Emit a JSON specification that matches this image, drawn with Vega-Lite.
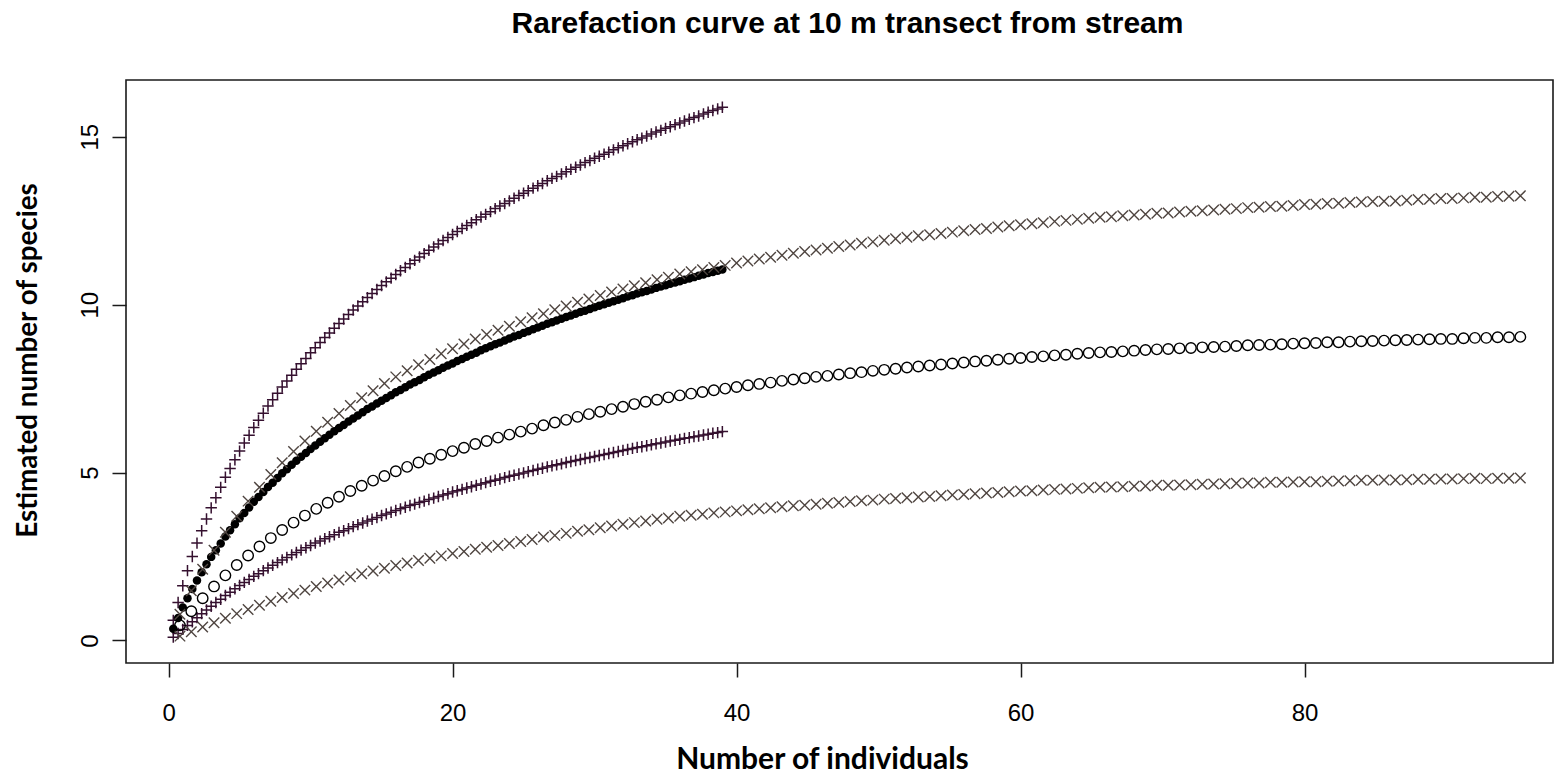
{
"$schema":"https://vega.github.io/schema/vega-lite/v6.json",
"width":1427,"height":583,
"autosize":{"type":"none"},
"padding":{"left":126,"top":80,"right":2,"bottom":110},
"background":"#ffffff",
"title":{"text":"Rarefaction curve at 10 m transect from stream","font":"Liberation Sans","fontSize":30,"fontWeight":"bold","color":"#000000","anchor":"middle","frame":"group","baseline":"alphabetic","offset":17,"dx":8},
"config":{"view":{"stroke":"#1a1a1a","strokeWidth":1.6},"axis":{"domain":false,"grid":false,"ticks":true,"tickSize":14,"tickWidth":1.5,"tickColor":"#1a1a1a","labelFont":"Liberation Sans","labelFontSize":24,"labelColor":"#000000","titleFont":"Lato","titleFontWeight":"bold","titleFontSize":27,"titleColor":"#000000"}},
"datasets":{
"am":[{"x":0.33,"y":0.35},{"x":0.67,"y":0.67},{"x":1,"y":0.98},{"x":1.33,"y":1.26},{"x":1.67,"y":1.53},{"x":2,"y":1.79},{"x":2.33,"y":2.03},{"x":2.67,"y":2.27},{"x":3,"y":2.49},{"x":3.33,"y":2.69},{"x":3.67,"y":2.89},{"x":4,"y":3.1},{"x":4.33,"y":3.28},{"x":4.67,"y":3.46},{"x":5,"y":3.64},{"x":5.33,"y":3.8},{"x":5.67,"y":3.96},{"x":6,"y":4.13},{"x":6.33,"y":4.27},{"x":6.67,"y":4.42},{"x":7,"y":4.57},{"x":7.33,"y":4.7},{"x":7.67,"y":4.84},{"x":8,"y":4.98},{"x":8.33,"y":5.1},{"x":8.67,"y":5.23},{"x":9,"y":5.35},{"x":9.33,"y":5.47},{"x":9.67,"y":5.58},{"x":10,"y":5.7},{"x":10.33,"y":5.81},{"x":10.67,"y":5.92},{"x":11,"y":6.02},{"x":11.33,"y":6.13},{"x":11.67,"y":6.23},{"x":12,"y":6.33},{"x":12.33,"y":6.42},{"x":12.67,"y":6.52},{"x":13,"y":6.61},{"x":13.33,"y":6.7},{"x":13.67,"y":6.8},{"x":14,"y":6.89},{"x":14.33,"y":6.97},{"x":14.67,"y":7.06},{"x":15,"y":7.14},{"x":15.33,"y":7.22},{"x":15.67,"y":7.3},{"x":16,"y":7.39},{"x":16.33,"y":7.46},{"x":16.67,"y":7.54},{"x":17,"y":7.62},{"x":17.33,"y":7.69},{"x":17.67,"y":7.76},{"x":18,"y":7.84},{"x":18.33,"y":7.91},{"x":18.67,"y":7.98},{"x":19,"y":8.05},{"x":19.33,"y":8.12},{"x":19.67,"y":8.19},{"x":20,"y":8.25},{"x":20.33,"y":8.32},{"x":20.67,"y":8.38},{"x":21,"y":8.45},{"x":21.33,"y":8.51},{"x":21.67,"y":8.57},{"x":22,"y":8.64},{"x":22.33,"y":8.7},{"x":22.67,"y":8.76},{"x":23,"y":8.82},{"x":23.33,"y":8.87},{"x":23.67,"y":8.93},{"x":24,"y":8.99},{"x":24.33,"y":9.05},{"x":24.67,"y":9.1},{"x":25,"y":9.16},{"x":25.33,"y":9.21},{"x":25.67,"y":9.27},{"x":26,"y":9.32},{"x":26.33,"y":9.37},{"x":26.67,"y":9.43},{"x":27,"y":9.48},{"x":27.33,"y":9.53},{"x":27.67,"y":9.58},{"x":28,"y":9.63},{"x":28.33,"y":9.68},{"x":28.67,"y":9.73},{"x":29,"y":9.78},{"x":29.33,"y":9.82},{"x":29.67,"y":9.87},{"x":30,"y":9.92},{"x":30.33,"y":9.97},{"x":30.67,"y":10.01},{"x":31,"y":10.06},{"x":31.33,"y":10.1},{"x":31.67,"y":10.15},{"x":32,"y":10.19},{"x":32.33,"y":10.24},{"x":32.67,"y":10.28},{"x":33,"y":10.33},{"x":33.33,"y":10.37},{"x":33.67,"y":10.41},{"x":34,"y":10.45},{"x":34.33,"y":10.5},{"x":34.67,"y":10.54},{"x":35,"y":10.58},{"x":35.33,"y":10.62},{"x":35.67,"y":10.66},{"x":36,"y":10.7},{"x":36.33,"y":10.74},{"x":36.67,"y":10.78},{"x":37,"y":10.82},{"x":37.33,"y":10.86},{"x":37.67,"y":10.9},{"x":38,"y":10.94},{"x":38.33,"y":10.97},{"x":38.67,"y":11.01},{"x":39,"y":11.05}],
"al":[{"x":0.33,"y":0.1},{"x":0.67,"y":0.21},{"x":1,"y":0.33},{"x":1.33,"y":0.45},{"x":1.67,"y":0.56},{"x":2,"y":0.68},{"x":2.33,"y":0.8},{"x":2.67,"y":0.91},{"x":3,"y":1.02},{"x":3.33,"y":1.13},{"x":3.67,"y":1.23},{"x":4,"y":1.34},{"x":4.33,"y":1.44},{"x":4.67,"y":1.54},{"x":5,"y":1.64},{"x":5.33,"y":1.73},{"x":5.67,"y":1.82},{"x":6,"y":1.91},{"x":6.33,"y":1.99},{"x":6.67,"y":2.08},{"x":7,"y":2.16},{"x":7.33,"y":2.24},{"x":7.67,"y":2.32},{"x":8,"y":2.4},{"x":8.33,"y":2.47},{"x":8.67,"y":2.55},{"x":9,"y":2.62},{"x":9.33,"y":2.69},{"x":9.67,"y":2.76},{"x":10,"y":2.83},{"x":10.33,"y":2.9},{"x":10.67,"y":2.96},{"x":11,"y":3.03},{"x":11.33,"y":3.09},{"x":11.67,"y":3.15},{"x":12,"y":3.22},{"x":12.33,"y":3.27},{"x":12.67,"y":3.33},{"x":13,"y":3.39},{"x":13.33,"y":3.45},{"x":13.67,"y":3.5},{"x":14,"y":3.56},{"x":14.33,"y":3.61},{"x":14.67,"y":3.66},{"x":15,"y":3.72},{"x":15.33,"y":3.77},{"x":15.67,"y":3.82},{"x":16,"y":3.87},{"x":16.33,"y":3.92},{"x":16.67,"y":3.97},{"x":17,"y":4.02},{"x":17.33,"y":4.06},{"x":17.67,"y":4.11},{"x":18,"y":4.15},{"x":18.33,"y":4.2},{"x":18.67,"y":4.24},{"x":19,"y":4.29},{"x":19.33,"y":4.33},{"x":19.67,"y":4.37},{"x":20,"y":4.42},{"x":20.33,"y":4.46},{"x":20.67,"y":4.5},{"x":21,"y":4.54},{"x":21.33,"y":4.58},{"x":21.67,"y":4.62},{"x":22,"y":4.66},{"x":22.33,"y":4.7},{"x":22.67,"y":4.74},{"x":23,"y":4.77},{"x":23.33,"y":4.81},{"x":23.67,"y":4.85},{"x":24,"y":4.89},{"x":24.33,"y":4.92},{"x":24.67,"y":4.96},{"x":25,"y":4.99},{"x":25.33,"y":5.03},{"x":25.67,"y":5.06},{"x":26,"y":5.1},{"x":26.33,"y":5.13},{"x":26.67,"y":5.17},{"x":27,"y":5.2},{"x":27.33,"y":5.23},{"x":27.67,"y":5.26},{"x":28,"y":5.3},{"x":28.33,"y":5.33},{"x":28.67,"y":5.36},{"x":29,"y":5.39},{"x":29.33,"y":5.42},{"x":29.67,"y":5.45},{"x":30,"y":5.48},{"x":30.33,"y":5.51},{"x":30.67,"y":5.54},{"x":31,"y":5.57},{"x":31.33,"y":5.6},{"x":31.67,"y":5.63},{"x":32,"y":5.66},{"x":32.33,"y":5.69},{"x":32.67,"y":5.72},{"x":33,"y":5.75},{"x":33.33,"y":5.77},{"x":33.67,"y":5.8},{"x":34,"y":5.83},{"x":34.33,"y":5.86},{"x":34.67,"y":5.88},{"x":35,"y":5.91},{"x":35.33,"y":5.94},{"x":35.67,"y":5.96},{"x":36,"y":5.99},{"x":36.33,"y":6.02},{"x":36.67,"y":6.04},{"x":37,"y":6.07},{"x":37.33,"y":6.09},{"x":37.67,"y":6.12},{"x":38,"y":6.14},{"x":38.33,"y":6.17},{"x":38.67,"y":6.19},{"x":39,"y":6.22}],
"ah":[{"x":0.33,"y":0.6},{"x":0.67,"y":1.13},{"x":1,"y":1.63},{"x":1.33,"y":2.08},{"x":1.67,"y":2.5},{"x":2,"y":2.9},{"x":2.33,"y":3.27},{"x":2.67,"y":3.62},{"x":3,"y":3.95},{"x":3.33,"y":4.25},{"x":3.67,"y":4.56},{"x":4,"y":4.86},{"x":4.33,"y":5.12},{"x":4.67,"y":5.38},{"x":5,"y":5.64},{"x":5.33,"y":5.88},{"x":5.67,"y":6.11},{"x":6,"y":6.34},{"x":6.33,"y":6.56},{"x":6.67,"y":6.77},{"x":7,"y":6.98},{"x":7.33,"y":7.17},{"x":7.67,"y":7.36},{"x":8,"y":7.55},{"x":8.33,"y":7.73},{"x":8.67,"y":7.9},{"x":9,"y":8.08},{"x":9.33,"y":8.24},{"x":9.67,"y":8.4},{"x":10,"y":8.57},{"x":10.33,"y":8.72},{"x":10.67,"y":8.87},{"x":11,"y":9.02},{"x":11.33,"y":9.16},{"x":11.67,"y":9.3},{"x":12,"y":9.44},{"x":12.33,"y":9.57},{"x":12.67,"y":9.71},{"x":13,"y":9.84},{"x":13.33,"y":9.96},{"x":13.67,"y":10.09},{"x":14,"y":10.21},{"x":14.33,"y":10.33},{"x":14.67,"y":10.45},{"x":15,"y":10.57},{"x":15.33,"y":10.68},{"x":15.67,"y":10.79},{"x":16,"y":10.9},{"x":16.33,"y":11.01},{"x":16.67,"y":11.11},{"x":17,"y":11.22},{"x":17.33,"y":11.32},{"x":17.67,"y":11.42},{"x":18,"y":11.52},{"x":18.33,"y":11.62},{"x":18.67,"y":11.72},{"x":19,"y":11.81},{"x":19.33,"y":11.91},{"x":19.67,"y":12},{"x":20,"y":12.09},{"x":20.33,"y":12.18},{"x":20.67,"y":12.27},{"x":21,"y":12.36},{"x":21.33,"y":12.44},{"x":21.67,"y":12.53},{"x":22,"y":12.61},{"x":22.33,"y":12.69},{"x":22.67,"y":12.77},{"x":23,"y":12.86},{"x":23.33,"y":12.94},{"x":23.67,"y":13.01},{"x":24,"y":13.09},{"x":24.33,"y":13.17},{"x":24.67,"y":13.25},{"x":25,"y":13.32},{"x":25.33,"y":13.39},{"x":25.67,"y":13.47},{"x":26,"y":13.54},{"x":26.33,"y":13.61},{"x":26.67,"y":13.69},{"x":27,"y":13.76},{"x":27.33,"y":13.82},{"x":27.67,"y":13.89},{"x":28,"y":13.96},{"x":28.33,"y":14.03},{"x":28.67,"y":14.09},{"x":29,"y":14.16},{"x":29.33,"y":14.23},{"x":29.67,"y":14.29},{"x":30,"y":14.36},{"x":30.33,"y":14.42},{"x":30.67,"y":14.48},{"x":31,"y":14.54},{"x":31.33,"y":14.61},{"x":31.67,"y":14.67},{"x":32,"y":14.73},{"x":32.33,"y":14.79},{"x":32.67,"y":14.85},{"x":33,"y":14.91},{"x":33.33,"y":14.96},{"x":33.67,"y":15.02},{"x":34,"y":15.08},{"x":34.33,"y":15.14},{"x":34.67,"y":15.19},{"x":35,"y":15.25},{"x":35.33,"y":15.3},{"x":35.67,"y":15.36},{"x":36,"y":15.41},{"x":36.33,"y":15.47},{"x":36.67,"y":15.52},{"x":37,"y":15.57},{"x":37.33,"y":15.62},{"x":37.67,"y":15.68},{"x":38,"y":15.73},{"x":38.33,"y":15.78},{"x":38.67,"y":15.83},{"x":39,"y":15.88}],
"bm":[{"x":0.8,"y":0.45},{"x":1.6,"y":0.87},{"x":2.4,"y":1.26},{"x":3.2,"y":1.61},{"x":4,"y":1.94},{"x":4.8,"y":2.25},{"x":5.6,"y":2.53},{"x":6.4,"y":2.8},{"x":7.2,"y":3.05},{"x":8,"y":3.29},{"x":8.8,"y":3.51},{"x":9.6,"y":3.72},{"x":10.4,"y":3.92},{"x":11.2,"y":4.1},{"x":12,"y":4.28},{"x":12.8,"y":4.45},{"x":13.6,"y":4.61},{"x":14.4,"y":4.76},{"x":15.2,"y":4.9},{"x":16,"y":5.04},{"x":16.8,"y":5.17},{"x":17.6,"y":5.3},{"x":18.4,"y":5.41},{"x":19.2,"y":5.53},{"x":20,"y":5.64},{"x":20.8,"y":5.74},{"x":21.6,"y":5.85},{"x":22.4,"y":5.94},{"x":23.2,"y":6.04},{"x":24,"y":6.13},{"x":24.8,"y":6.22},{"x":25.6,"y":6.31},{"x":26.4,"y":6.41},{"x":27.2,"y":6.49},{"x":28,"y":6.57},{"x":28.8,"y":6.66},{"x":29.6,"y":6.74},{"x":30.4,"y":6.81},{"x":31.2,"y":6.89},{"x":32,"y":6.96},{"x":32.8,"y":7.04},{"x":33.6,"y":7.11},{"x":34.4,"y":7.17},{"x":35.2,"y":7.24},{"x":36,"y":7.3},{"x":36.8,"y":7.35},{"x":37.6,"y":7.4},{"x":38.4,"y":7.45},{"x":39.2,"y":7.5},{"x":40,"y":7.55},{"x":40.8,"y":7.6},{"x":41.6,"y":7.64},{"x":42.4,"y":7.68},{"x":43.2,"y":7.73},{"x":44,"y":7.77},{"x":44.8,"y":7.81},{"x":45.6,"y":7.85},{"x":46.4,"y":7.88},{"x":47.2,"y":7.92},{"x":48,"y":7.96},{"x":48.8,"y":7.99},{"x":49.6,"y":8.03},{"x":50.4,"y":8.06},{"x":51.2,"y":8.09},{"x":52,"y":8.13},{"x":52.8,"y":8.16},{"x":53.6,"y":8.19},{"x":54.4,"y":8.22},{"x":55.2,"y":8.25},{"x":56,"y":8.28},{"x":56.8,"y":8.31},{"x":57.6,"y":8.33},{"x":58.4,"y":8.36},{"x":59.2,"y":8.39},{"x":60,"y":8.41},{"x":60.8,"y":8.44},{"x":61.6,"y":8.46},{"x":62.4,"y":8.49},{"x":63.2,"y":8.51},{"x":64,"y":8.54},{"x":64.8,"y":8.56},{"x":65.6,"y":8.58},{"x":66.4,"y":8.59},{"x":67.2,"y":8.61},{"x":68,"y":8.63},{"x":68.8,"y":8.65},{"x":69.6,"y":8.67},{"x":70.4,"y":8.68},{"x":71.2,"y":8.7},{"x":72,"y":8.71},{"x":72.8,"y":8.73},{"x":73.6,"y":8.74},{"x":74.4,"y":8.75},{"x":75.2,"y":8.77},{"x":76,"y":8.79},{"x":76.8,"y":8.8},{"x":77.6,"y":8.81},{"x":78.4,"y":8.82},{"x":79.2,"y":8.84},{"x":80,"y":8.85},{"x":80.8,"y":8.86},{"x":81.6,"y":8.88},{"x":82.4,"y":8.88},{"x":83.2,"y":8.9},{"x":84,"y":8.91},{"x":84.8,"y":8.92},{"x":85.6,"y":8.93},{"x":86.4,"y":8.94},{"x":87.2,"y":8.95},{"x":88,"y":8.96},{"x":88.8,"y":8.97},{"x":89.6,"y":8.98},{"x":90.4,"y":8.98},{"x":91.2,"y":9},{"x":92,"y":9.01},{"x":92.8,"y":9.01},{"x":93.6,"y":9.03},{"x":94.4,"y":9.03},{"x":95.2,"y":9.04}],
"bl":[{"x":0.8,"y":0.13},{"x":1.6,"y":0.26},{"x":2.4,"y":0.4},{"x":3.2,"y":0.53},{"x":4,"y":0.66},{"x":4.8,"y":0.8},{"x":5.6,"y":0.92},{"x":6.4,"y":1.05},{"x":7.2,"y":1.17},{"x":8,"y":1.28},{"x":8.8,"y":1.4},{"x":9.6,"y":1.5},{"x":10.4,"y":1.61},{"x":11.2,"y":1.71},{"x":12,"y":1.8},{"x":12.8,"y":1.9},{"x":13.6,"y":1.99},{"x":14.4,"y":2.07},{"x":15.2,"y":2.15},{"x":16,"y":2.23},{"x":16.8,"y":2.31},{"x":17.6,"y":2.38},{"x":18.4,"y":2.45},{"x":19.2,"y":2.52},{"x":20,"y":2.59},{"x":20.8,"y":2.65},{"x":21.6,"y":2.72},{"x":22.4,"y":2.78},{"x":23.2,"y":2.83},{"x":24,"y":2.89},{"x":24.8,"y":2.95},{"x":25.6,"y":3.01},{"x":26.4,"y":3.08},{"x":27.2,"y":3.13},{"x":28,"y":3.19},{"x":28.8,"y":3.25},{"x":29.6,"y":3.3},{"x":30.4,"y":3.36},{"x":31.2,"y":3.41},{"x":32,"y":3.46},{"x":32.8,"y":3.51},{"x":33.6,"y":3.56},{"x":34.4,"y":3.61},{"x":35.2,"y":3.65},{"x":36,"y":3.7},{"x":36.8,"y":3.73},{"x":37.6,"y":3.76},{"x":38.4,"y":3.8},{"x":39.2,"y":3.83},{"x":40,"y":3.86},{"x":40.8,"y":3.89},{"x":41.6,"y":3.92},{"x":42.4,"y":3.95},{"x":43.2,"y":3.98},{"x":44,"y":4.01},{"x":44.8,"y":4.03},{"x":45.6,"y":4.06},{"x":46.4,"y":4.09},{"x":47.2,"y":4.11},{"x":48,"y":4.14},{"x":48.8,"y":4.16},{"x":49.6,"y":4.18},{"x":50.4,"y":4.21},{"x":51.2,"y":4.23},{"x":52,"y":4.25},{"x":52.8,"y":4.27},{"x":53.6,"y":4.29},{"x":54.4,"y":4.31},{"x":55.2,"y":4.33},{"x":56,"y":4.35},{"x":56.8,"y":4.37},{"x":57.6,"y":4.39},{"x":58.4,"y":4.41},{"x":59.2,"y":4.43},{"x":60,"y":4.45},{"x":60.8,"y":4.46},{"x":61.6,"y":4.48},{"x":62.4,"y":4.5},{"x":63.2,"y":4.51},{"x":64,"y":4.53},{"x":64.8,"y":4.55},{"x":65.6,"y":4.56},{"x":66.4,"y":4.57},{"x":67.2,"y":4.58},{"x":68,"y":4.59},{"x":68.8,"y":4.6},{"x":69.6,"y":4.62},{"x":70.4,"y":4.62},{"x":71.2,"y":4.63},{"x":72,"y":4.64},{"x":72.8,"y":4.65},{"x":73.6,"y":4.66},{"x":74.4,"y":4.67},{"x":75.2,"y":4.68},{"x":76,"y":4.69},{"x":76.8,"y":4.69},{"x":77.6,"y":4.71},{"x":78.4,"y":4.71},{"x":79.2,"y":4.72},{"x":80,"y":4.73},{"x":80.8,"y":4.73},{"x":81.6,"y":4.74},{"x":82.4,"y":4.75},{"x":83.2,"y":4.76},{"x":84,"y":4.77},{"x":84.8,"y":4.77},{"x":85.6,"y":4.78},{"x":86.4,"y":4.78},{"x":87.2,"y":4.79},{"x":88,"y":4.8},{"x":88.8,"y":4.8},{"x":89.6,"y":4.81},{"x":90.4,"y":4.81},{"x":91.2,"y":4.82},{"x":92,"y":4.83},{"x":92.8,"y":4.82},{"x":93.6,"y":4.83},{"x":94.4,"y":4.83},{"x":95.2,"y":4.84}],
"bh":[{"x":0.8,"y":0.78},{"x":1.6,"y":1.48},{"x":2.4,"y":2.12},{"x":3.2,"y":2.69},{"x":4,"y":3.22},{"x":4.8,"y":3.7},{"x":5.6,"y":4.15},{"x":6.4,"y":4.56},{"x":7.2,"y":4.94},{"x":8,"y":5.29},{"x":8.8,"y":5.63},{"x":9.6,"y":5.94},{"x":10.4,"y":6.23},{"x":11.2,"y":6.5},{"x":12,"y":6.76},{"x":12.8,"y":7},{"x":13.6,"y":7.23},{"x":14.4,"y":7.44},{"x":15.2,"y":7.65},{"x":16,"y":7.85},{"x":16.8,"y":8.03},{"x":17.6,"y":8.21},{"x":18.4,"y":8.37},{"x":19.2,"y":8.54},{"x":20,"y":8.69},{"x":20.8,"y":8.83},{"x":21.6,"y":8.98},{"x":22.4,"y":9.11},{"x":23.2,"y":9.24},{"x":24,"y":9.36},{"x":24.8,"y":9.49},{"x":25.6,"y":9.61},{"x":26.4,"y":9.73},{"x":27.2,"y":9.85},{"x":28,"y":9.96},{"x":28.8,"y":10.07},{"x":29.6,"y":10.17},{"x":30.4,"y":10.27},{"x":31.2,"y":10.38},{"x":32,"y":10.47},{"x":32.8,"y":10.56},{"x":33.6,"y":10.65},{"x":34.4,"y":10.74},{"x":35.2,"y":10.82},{"x":36,"y":10.91},{"x":36.8,"y":10.98},{"x":37.6,"y":11.04},{"x":38.4,"y":11.11},{"x":39.2,"y":11.17},{"x":40,"y":11.24},{"x":40.8,"y":11.3},{"x":41.6,"y":11.36},{"x":42.4,"y":11.41},{"x":43.2,"y":11.47},{"x":44,"y":11.53},{"x":44.8,"y":11.58},{"x":45.6,"y":11.63},{"x":46.4,"y":11.68},{"x":47.2,"y":11.73},{"x":48,"y":11.78},{"x":48.8,"y":11.83},{"x":49.6,"y":11.87},{"x":50.4,"y":11.92},{"x":51.2,"y":11.96},{"x":52,"y":12.01},{"x":52.8,"y":12.05},{"x":53.6,"y":12.08},{"x":54.4,"y":12.12},{"x":55.2,"y":12.16},{"x":56,"y":12.2},{"x":56.8,"y":12.24},{"x":57.6,"y":12.27},{"x":58.4,"y":12.31},{"x":59.2,"y":12.35},{"x":60,"y":12.38},{"x":60.8,"y":12.41},{"x":61.6,"y":12.44},{"x":62.4,"y":12.48},{"x":63.2,"y":12.51},{"x":64,"y":12.54},{"x":64.8,"y":12.57},{"x":65.6,"y":12.6},{"x":66.4,"y":12.62},{"x":67.2,"y":12.65},{"x":68,"y":12.67},{"x":68.8,"y":12.69},{"x":69.6,"y":12.72},{"x":70.4,"y":12.73},{"x":71.2,"y":12.76},{"x":72,"y":12.78},{"x":72.8,"y":12.8},{"x":73.6,"y":12.82},{"x":74.4,"y":12.84},{"x":75.2,"y":12.86},{"x":76,"y":12.89},{"x":76.8,"y":12.9},{"x":77.6,"y":12.92},{"x":78.4,"y":12.93},{"x":79.2,"y":12.95},{"x":80,"y":12.98},{"x":80.8,"y":12.99},{"x":81.6,"y":13.01},{"x":82.4,"y":13.02},{"x":83.2,"y":13.04},{"x":84,"y":13.06},{"x":84.8,"y":13.07},{"x":85.6,"y":13.08},{"x":86.4,"y":13.09},{"x":87.2,"y":13.11},{"x":88,"y":13.13},{"x":88.8,"y":13.14},{"x":89.6,"y":13.16},{"x":90.4,"y":13.16},{"x":91.2,"y":13.18},{"x":92,"y":13.2},{"x":92.8,"y":13.2},{"x":93.6,"y":13.22},{"x":94.4,"y":13.23},{"x":95.2,"y":13.24}]
},
"encoding":{
"x":{"field":"x","type":"quantitative","scale":{"domain":[-3,97.5],"nice":false,"zero":false},"axis":{"values":[0,20,40,60,80],"title":"Number of individuals","titleFontSize":30,"labelPadding":43,"labelBaseline":"alphabetic","labelAngle":0,"titleX":696,"titleY":105,"titleAlign":"center","titleBaseline":"alphabetic"}},
"y":{"field":"y","type":"quantitative","scale":{"domain":[-0.67,16.69],"nice":false,"zero":false},"axis":{"values":[0,5,10,15],"title":"Estimated number of species","titleFontSize":27.8,"labelAngle":270,"labelAlign":"center","labelBaseline":"alphabetic","labelPadding":15,"titleX":-90,"titleY":280,"titleAngle":270,"titleAlign":"center","titleBaseline":"alphabetic"}}
},
"layer":[
{"data":{"name":"ah"},"mark":{"type":"point","shape":"M-1,0L1,0M0,-1L0,1","filled":false,"color":"#35102f","size":130,"strokeWidth":1.5,"opacity":1}},
{"data":{"name":"al"},"mark":{"type":"point","shape":"M-1,0L1,0M0,-1L0,1","filled":false,"color":"#35102f","size":130,"strokeWidth":1.5,"opacity":1}},
{"data":{"name":"am"},"mark":{"type":"point","shape":"circle","filled":true,"color":"#000000","size":72,"opacity":1}},
{"data":{"name":"bh"},"mark":{"type":"point","shape":"M-1,-1L1,1M-1,1L1,-1","filled":false,"color":"#4f4540","size":110,"strokeWidth":1.4,"opacity":1}},
{"data":{"name":"bl"},"mark":{"type":"point","shape":"M-1,-1L1,1M-1,1L1,-1","filled":false,"color":"#4f4540","size":110,"strokeWidth":1.4,"opacity":1}},
{"data":{"name":"bm"},"mark":{"type":"point","shape":"circle","filled":false,"color":"#000000","size":110,"strokeWidth":1.4,"opacity":1}}
]
}
